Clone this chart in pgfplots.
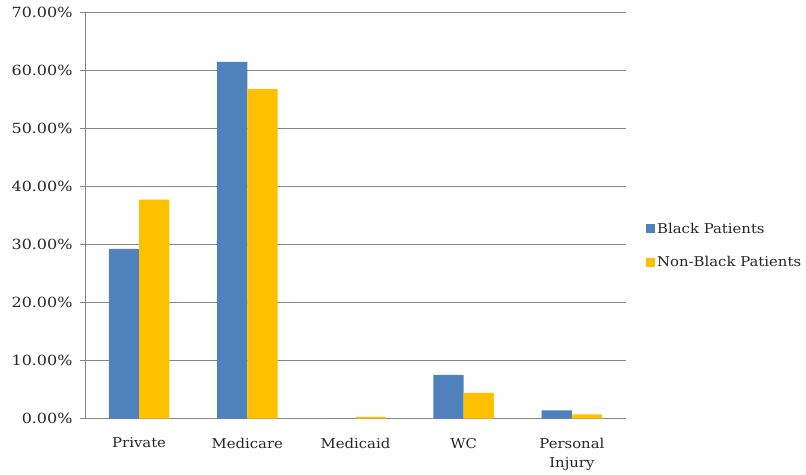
\documentclass[border=0pt]{standalone}
\usepackage{pgfplots}
\pgfplotsset{compat=1.18}
\usepackage{fontspec}
\setmainfont[FakeStretch=1.1]{DejaVu Serif}
\newfontfamily\ynum[FakeStretch=1.14]{DejaVu Serif}
\definecolor{cblue}{HTML}{4F81BD}
\definecolor{cyel}{HTML}{FFC000}
\definecolor{cgrid}{HTML}{868686}
\definecolor{ctext}{HTML}{262626}
\begin{document}
\begin{tikzpicture}
\path[use as bounding box] (-85pt,-55.5pt) rectangle (721pt,418.5pt);
\begin{axis}[
  at={(0,0)}, anchor=south west,
  scale only axis, width=541pt, height=406.5pt,
  ybar=0pt, bar width=0.28,
  xmin=-0.5, xmax=4.5, ymin=0, ymax=70,
  xtick={0,1,2,3,4},
  xticklabels={Private,Medicare,Medicaid,WC,{Personal\\Injury}},
  xticklabel style={align=center, text=ctext, font=\fontsize{13.5}{19}\selectfont, yshift=-11pt},
  major x tick style={draw=none},
  extra x ticks={-0.5,0.5,1.5,2.5,3.5,4.5},
  extra x tick labels={},
  extra x tick style={major tick length=5pt, tick style={draw=cgrid}},
  ytick={0,10,...,70},
  yticklabels={0.00\%,10.00\%,20.00\%,30.00\%,40.00\%,50.00\%,60.00\%,70.00\%},
  yticklabel style={text=ctext, font=\ynum\fontsize{14}{16}\selectfont, xshift=-4pt},
  ymajorgrids, grid style={cgrid, line width=0.8pt},
  axis lines*=left,
  axis line style={cgrid, line width=0.8pt},
  tick align=outside, major tick length=5pt,
  tick style={cgrid, line width=0.8pt},
  legend style={at={(1.037,0.425)}, anchor=west, draw=none, fill=none,
     font=\fontsize{13.5}{16}\selectfont, text=ctext, row sep=18pt,
     inner sep=0pt},
  legend cell align=left,
  legend image code/.code={\fill[#1] (0pt,-4.5pt) rectangle (9pt,4.5pt);},
]
\addplot[fill=cblue, draw=none] coordinates {(0,29.2) (1,61.4) (2,0) (3,7.5) (4,1.4)};
\addplot[fill=cyel, draw=none] coordinates {(0,37.7) (1,56.7) (2,0.3) (3,4.4) (4,0.7)};
\legend{Black Patients, Non-Black Patients}
\end{axis}
\end{tikzpicture}
\end{document}
